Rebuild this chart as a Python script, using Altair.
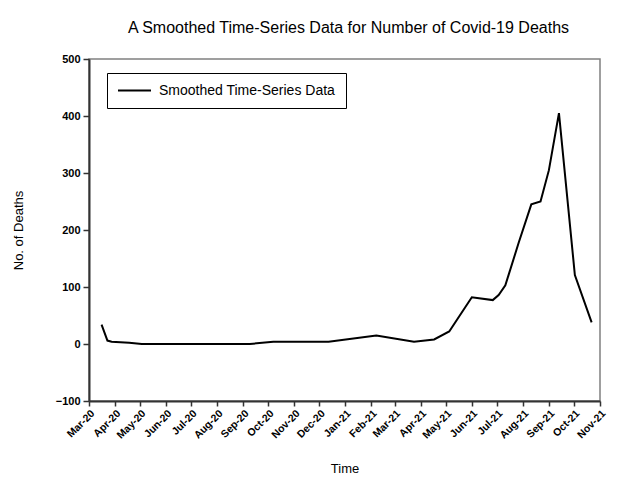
import altair as alt
import pandas as pd

dates = ["2020-03-16", "2020-03-23", "2020-03-28", "2020-04-18", "2020-05-03",
         "2020-09-09", "2020-10-07", "2020-12-12", "2021-02-07", "2021-03-24",
         "2021-04-17", "2021-05-05", "2021-06-01", "2021-06-26", "2021-07-03",
         "2021-07-11", "2021-07-27", "2021-08-11", "2021-08-22", "2021-09-01",
         "2021-09-13", "2021-10-02", "2021-10-22"]
deaths = [34, 6, 4, 2, 0, 0, 4, 4, 15, 4, 8, 22, 82, 77, 86, 103, 178, 245,
          250, 305, 405, 121, 38]
series_name = "Smoothed Time-Series Data"
y_ticks = [-100, 0, 100, 200, 300, 400, 500]

df = pd.DataFrame({"date": dates, "deaths": deaths, "series": series_name})

FONT = "Liberation Sans"

chart = alt.Chart(df).mark_line(strokeWidth=2, color="black").encode(
    x=alt.X("date:T",
            title="Time",
            scale=alt.Scale(type="utc",
                            domain=[alt.DateTime(year=2020, month=3, date=1, utc=True),
                                    alt.DateTime(year=2021, month=11, date=1, utc=True)],
                            nice=False),
            axis=alt.Axis(labelExpr="utcFormat(datum.value, '%b-%y')",
                          tickCount=alt.TimeIntervalStep(interval="month", step=1),
                          labelAngle=-45, labelOverlap=False, labelFlush=False,
                          labelFontWeight="bold", labelFontSize=10.5, labelFont=FONT,
                          labelColor="black", labelPadding=2,
                          tickSize=5, tickColor="#333", tickWidth=1.5,
                          domainColor="#333", domainWidth=2, grid=False,
                          titleFont=FONT, titleFontSize=13, titleFontWeight="normal",
                          titleColor="black", titleY=71, titleBaseline="alphabetic")),
    y=alt.Y("deaths:Q",
            title="No. of Deaths",
            scale=alt.Scale(domain=[-100, 500], nice=False, zero=False),
            axis=alt.Axis(values=y_ticks, labelFontWeight="bold", labelFontSize=11,
                          labelFont=FONT, labelColor="black", labelPadding=3,
                          tickSize=6, tickColor="#333", tickWidth=1.5,
                          domainColor="#333", domainWidth=2, grid=False,
                          titleFont=FONT, titleFontSize=13, titleFontWeight="normal",
                          titleColor="black", titleX=-71, titleY=171,
                          titleAlign="center", titleBaseline="middle")),
    color=alt.Color("series:N",
                    scale=alt.Scale(range=["black"]),
                    legend=alt.Legend(orient="none", legendX=18, legendY=14,
                                      title=None, strokeColor="black",
                                      fillColor="white", padding=10,
                                      symbolType="stroke", symbolSize=1089,
                                      symbolStrokeWidth=2, symbolStrokeColor="black",
                                      clipHeight=15, labelOffset=7, labelLimit=400,
                                      labelFontSize=14, labelFont=FONT,
                                      labelColor="black")),
).properties(
    width=511,
    height=342,
    title=alt.TitleParams("A Smoothed Time-Series Data for Number of Covid-19 Deaths",
                          font=FONT, fontSize=16, fontWeight="normal", color="black",
                          anchor="middle", frame="group", offset=17, dx=4),
    autosize=alt.AutoSizeParams(type="none"),
    padding={"left": 81, "top": 51, "right": 36, "bottom": 85},
    background="white",
).configure_view(stroke="#808080", strokeWidth=1.5)

chart.save("out.html", embed_options={"renderer": "svg", "actions": False})
